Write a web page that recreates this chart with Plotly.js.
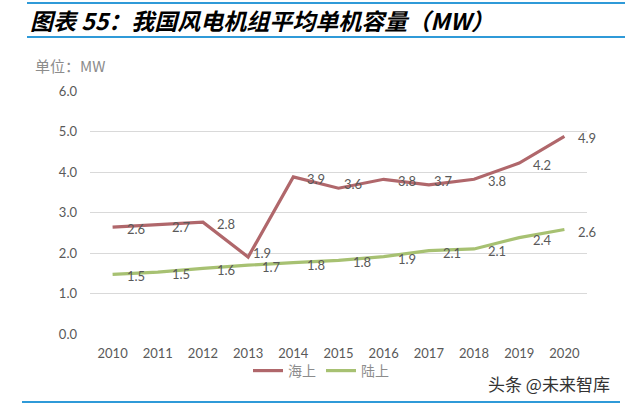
<!DOCTYPE html>
<html>
<head>
<meta charset="utf-8">
<script src="https://cdn.plot.ly/plotly-3.0.1.min.js"></script>
<style>html,body{margin:0;padding:0;background:#fff;}#chart{width:640px;height:405px;}</style>
</head>
<body>
<div id="chart"></div>
<script>
const years = [2010, 2011, 2012, 2013, 2014, 2015, 2016, 2017, 2018, 2019, 2020];
const offshore = [2.64, 2.7, 2.76, 1.9, 3.88, 3.6, 3.82, 3.68, 3.82, 4.22, 4.88];
const onshore = [1.47, 1.53, 1.62, 1.7, 1.76, 1.82, 1.91, 2.06, 2.1, 2.38, 2.58];
const seriesNames = ['海上', '陆上'];
const yTicks = [0, 1, 2, 3, 4, 5, 6];
const yTickLabels = ['0.0', '1.0', '2.0', '3.0', '4.0', '5.0', '6.0'];
const titleText = '图表 55：我国风电机组平均单机容量（MW）';
const unitText = '单位：MW';
const watermark = '头条 @未来智库';

const labelFont = {family: 'Lato, "Open Sans", sans-serif', size: 13, color: '#595959'};
const colors = ['#B0676B', '#A7C172'];

function mk(y, name, color) {
  return {
    x: years, y: y, name: name, type: 'scatter', mode: 'lines',
    line: {color: color, width: 3.2},
    hoverinfo: 'skip'
  };
}

const data = [mk(offshore, seriesNames[0], colors[0]), mk(onshore, seriesNames[1], colors[1])];

// data labels, placed through the axes at each point (to the right of the point)
function labels(ys) {
  return ys.map((v, i) => {
    const isMin = i > 0 && i < ys.length - 1 && v < ys[i - 1] && v < ys[i + 1];
    return {
      x: years[i], y: v, xref: 'x', yref: 'y', text: v.toFixed(1), showarrow: false,
      xanchor: 'left', yanchor: 'middle',
      xshift: isMin ? 3 : 12, yshift: isMin ? 4 : -2,
      font: labelFont
    };
  });
}

const px = p => (p - 90) / 497;
const py = p => (334 - p) / 243;
const blue = '#2F9AD8';

const layout = {
  width: 640, height: 405,
  margin: {l: 90, r: 53, t: 91, b: 71},
  paper_bgcolor: '#ffffff', plot_bgcolor: '#ffffff',
  showlegend: true,
  legend: {
    orientation: 'h', x: px(248), xanchor: 'left', y: py(371), yanchor: 'middle',
    font: {family: '"Noto Sans CJK SC", sans-serif', size: 14, color: '#8c8c8c'},
    itemwidth: 30, tracegroupgap: 0, bgcolor: 'rgba(0,0,0,0)'
  },
  xaxis: {
    range: [2009.5, 2020.5], tickvals: years, ticktext: years.map(String),
    showgrid: false, zeroline: false, showline: false, ticks: '',
    tickfont: {family: 'Lato, "Open Sans", sans-serif', size: 13, color: '#595959'},
    ticklabelstandoff: 10, fixedrange: true
  },
  yaxis: {
    range: [0, 6], tickvals: yTicks, ticktext: yTickLabels,
    showgrid: true, gridcolor: '#d9d9d9', gridwidth: 1, zeroline: false, showline: false, ticks: '',
    tickfont: {family: 'Lato, "Open Sans", sans-serif', size: 13, color: '#595959'},
    ticklabelstandoff: 12, fixedrange: true
  },
  shapes: [
    {type: 'line', xref: 'paper', yref: 'paper', x0: px(27), x1: px(625), y0: py(3), y1: py(3), line: {color: blue, width: 2}},
    {type: 'line', xref: 'paper', yref: 'paper', x0: px(27), x1: px(625), y0: py(37), y1: py(37), line: {color: blue, width: 2}},
    {type: 'line', xref: 'paper', yref: 'paper', x0: px(22), x1: px(620), y0: py(402), y1: py(402), line: {color: blue, width: 2}}
  ],
  annotations: [
    {text: '<b><i>' + titleText + '</i></b>', xref: 'paper', yref: 'paper', x: px(28), y: py(20), xanchor: 'left', yanchor: 'middle', showarrow: false,
     font: {family: '"Noto Sans CJK SC", sans-serif', size: 23, color: '#000000'}},
    {text: unitText, xref: 'paper', yref: 'paper', x: px(33), y: py(65), xanchor: 'left', yanchor: 'middle', showarrow: false,
     font: {family: '"Noto Sans CJK SC", sans-serif', size: 15, color: '#8c8c8c'}},
    {text: watermark, xref: 'paper', yref: 'paper', x: px(612), y: py(383), xanchor: 'right', yanchor: 'middle', showarrow: false,
     font: {family: '"Noto Sans CJK SC", sans-serif', size: 17, color: '#333333'}}
  ].concat(labels(offshore), labels(onshore))
};

Plotly.newPlot('chart', data, layout, {staticPlot: true, displayModeBar: false});
</script>
</body>
</html>
